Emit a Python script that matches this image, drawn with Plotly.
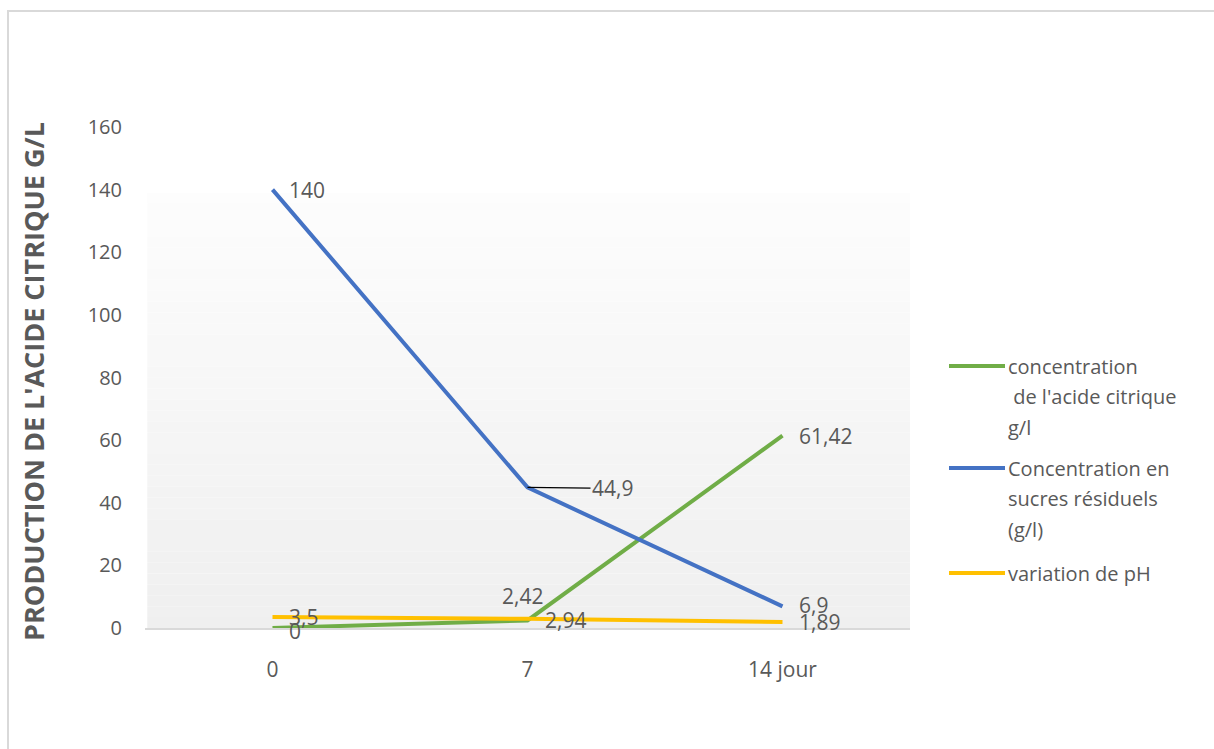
import plotly.graph_objects as go

# Days of fermentation (category axis)
days = ["0", "7", "14 jour"]

# Series values
citric_acid = [0, 2.42, 61.42]
residual_sugars = [140, 44.9, 6.9]
ph_values = [3.5, 2.94, 1.89]

series_names = [
    "concentration\n de l'acide citrique\ng/l",
    "Concentration en\nsucres résiduels\n(g/l)",
    "variation de pH",
]
series_colors = ["#70ad47", "#4472c4", "#ffc000"]

y_ticks = [0, 20, 40, 60, 80, 100, 120, 140, 160]

FONT = "Open Sans"
TXT = "#595959"

W, H = 1214, 749
ML, MR, MT, MB = 145, 304, 127, 121
PW, PH = W - ML - MR, H - MT - MB


def px_x(px):
    return (px - ML) / PW


def px_y(py):
    return (H - MB - py) / PH


def fmt(v):
    return f"{v:g}".replace(".", ",")


fig = go.Figure()

all_series = [citric_acid, residual_sugars, ph_values]
for name, vals, col in zip(series_names, all_series, series_colors):
    fig.add_trace(go.Scatter(
        x=days, y=vals, mode="lines", name=name.replace("\n", " "),
        line=dict(color=col, width=4), showlegend=False,
        hoverinfo="x+y",
    ))

shapes = []
annotations = []

# Plot-area gradient band (light to slightly darker grey toward the bottom)
n_bands = 40
g_top, g_bot = 139.0, 0.0
c_top, c_bot = 253, 239
for i in range(n_bands):
    y0 = g_top - (g_top - g_bot) * i / n_bands
    y1 = g_top - (g_top - g_bot) * (i + 1) / n_bands
    c = round(c_top + (c_bot - c_top) * (i + 0.5) / n_bands)
    shapes.append(dict(
        type="rect", xref="x domain", yref="y", x0=0.003, x1=1, y0=y1, y1=y0,
        fillcolor=f"rgb({c},{c},{c})", line=dict(width=0), layer="below",
    ))

# Outer chart border
shapes.append(dict(
    type="rect", xref="paper", yref="paper",
    x0=px_x(8), x1=px_x(1260), y0=px_y(800), y1=px_y(11),
    line=dict(color="#d9d9d9", width=2), fillcolor="rgba(0,0,0,0)", layer="below",
))

# Data labels: per-point (xshift, yshift, xanchor); None = leader-line label
LABEL_SIZE = 21
label_offsets = [
    [(14, -3, "left"), (-5, 24, "center"), (14, 0, "left")],
    [(14, 0, "left"), None, (14, 1, "left")],
    [(14, 0, "left"), (15, -1, "left"), (14, 0, "left")],
]
for vals, offs in zip(all_series, label_offsets):
    for i, (v, o) in enumerate(zip(vals, offs)):
        if o is None:
            annotations.append(dict(
                x=i, y=v, xref="x", yref="y", text=fmt(v), showarrow=True,
                arrowhead=0, arrowwidth=1.2, arrowcolor="#000000",
                ax=85, ay=1, standoff=0,
                font=dict(family=FONT, size=LABEL_SIZE, color=TXT),
            ))
        else:
            xs, ys, xa = o
            annotations.append(dict(
                x=i, y=v, xref="x", yref="y", text=fmt(v), showarrow=False,
                xanchor=xa, yanchor="middle", xshift=xs, yshift=ys,
                font=dict(family=FONT, size=LABEL_SIZE, color=TXT),
            ))

# Legend drawn beside the plot area
legend_rows = [366, 468, 573]
line_gap = 30.5
for name, col, ly in zip(series_names, series_colors, legend_rows):
    shapes.append(dict(
        type="line", xref="paper", yref="paper",
        x0=px_x(949), x1=px_x(1005), y0=px_y(ly), y1=px_y(ly),
        line=dict(color=col, width=4),
    ))
    for k, part in enumerate(name.split("\n")):
        annotations.append(dict(
            x=px_x(1006), y=px_y(ly + k * line_gap), xref="paper", yref="paper",
            text=part.replace(" ", "&nbsp;", 1) if part.startswith(" ") else part,
            showarrow=False, xanchor="left", yanchor="middle",
            font=dict(family=FONT, size=20, color=TXT),
        ))

# Vertical axis title
annotations.append(dict(
    x=px_x(33), y=px_y(382), xref="paper", yref="paper",
    text="<b>PRODUCTION DE L'ACIDE CITRIQUE G/L</b>", textangle=-90,
    showarrow=False, xanchor="center", yanchor="middle",
    font=dict(family=FONT, size=27, color=TXT),
))

fig.update_layout(
    width=W, height=H,
    margin=dict(l=ML, r=MR, t=MT, b=MB),
    paper_bgcolor="white", plot_bgcolor="white",
    showlegend=False,
    shapes=shapes, annotations=annotations,
    xaxis=dict(
        type="category", categoryorder="array", categoryarray=days,
        range=[-0.5, 2.5], showgrid=False, zeroline=False,
        showline=True, linecolor="#d9d9d9", linewidth=1.5,
        ticks="", ticklabelstandoff=22,
        tickfont=dict(family=FONT, size=21, color=TXT),
    ),
    yaxis=dict(
        range=[0, 160], tickvals=y_ticks, showgrid=False, zeroline=False,
        showline=False, ticks="", ticklabelstandoff=22,
        tickfont=dict(family=FONT, size=20, color=TXT),
    ),
)

fig.write_html("out.html")
